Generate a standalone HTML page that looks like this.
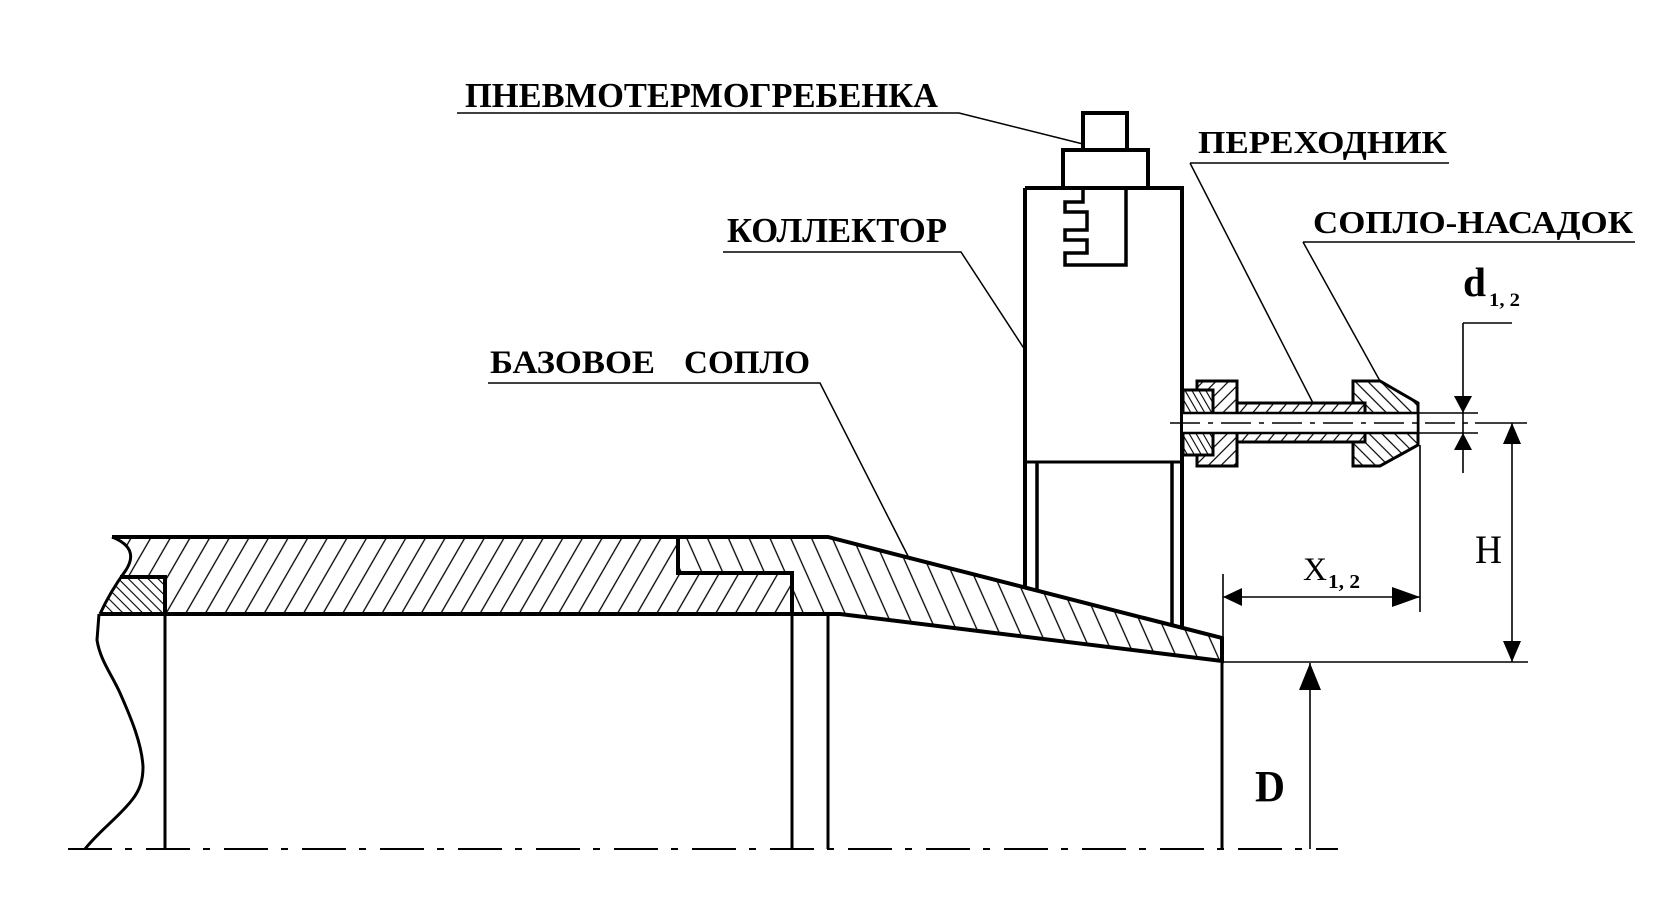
<!DOCTYPE html>
<html>
<head>
<meta charset="utf-8">
<style>
  html, body { margin: 0; padding: 0; background: #fff; }
  body { width: 1668px; height: 897px; overflow: hidden; }
  svg { display: block; }
  text { font-family: "Liberation Serif", "DejaVu Serif", serif; fill: #000; }
</style>
</head>
<body>
<svg width="1668" height="897" viewBox="0 0 1668 897" xmlns="http://www.w3.org/2000/svg">
  <defs>
    <!-- pipe hatch "/" ~60deg -->
    <pattern id="hp" patternUnits="userSpaceOnUse" width="17" height="17" patternTransform="rotate(30)">
      <line x1="8.5" y1="0" x2="8.5" y2="17" stroke="#000" stroke-width="1.3"/>
    </pattern>
    <!-- base nozzle hatch "\" ~66deg -->
    <pattern id="hb" patternUnits="userSpaceOnUse" width="19" height="19" patternTransform="rotate(-24)">
      <line x1="9.5" y1="0" x2="9.5" y2="19" stroke="#000" stroke-width="1.3"/>
    </pattern>
    <!-- small piece "\" 45 -->
    <pattern id="hs" patternUnits="userSpaceOnUse" width="7" height="7" patternTransform="rotate(-45)">
      <line x1="3.5" y1="0" x2="3.5" y2="7" stroke="#000" stroke-width="1.1"/>
    </pattern>
    <!-- nut "/" 45 -->
    <pattern id="hn" patternUnits="userSpaceOnUse" width="9" height="9" patternTransform="rotate(45)">
      <line x1="4.5" y1="0" x2="4.5" y2="9" stroke="#000" stroke-width="1.2"/>
    </pattern>
    <!-- piece A "\" -->
    <pattern id="ha" patternUnits="userSpaceOnUse" width="6" height="6" patternTransform="rotate(-30)">
      <line x1="3" y1="0" x2="3" y2="6" stroke="#000" stroke-width="1.1"/>
    </pattern>
    <!-- tube "/" -->
    <pattern id="htu" patternUnits="userSpaceOnUse" width="10" height="10" patternTransform="rotate(40)">
      <line x1="5" y1="0" x2="5" y2="10" stroke="#000" stroke-width="1.2"/>
    </pattern>
    <!-- tip "\" -->
    <pattern id="hti" patternUnits="userSpaceOnUse" width="9" height="9" patternTransform="rotate(-45)">
      <line x1="4.5" y1="0" x2="4.5" y2="9" stroke="#000" stroke-width="1.2"/>
    </pattern>
  </defs>

  <rect x="0" y="0" width="1668" height="897" fill="#fff"/>

  <!-- ===== Hatched fills of main body ===== -->
  <path d="M112,537 H678 V573 H792 V614 H165 V577 H122 L126,570 Q140,548 112,537 Z" fill="url(#hp)"/>
  <path d="M122,577 H165 V614 H100 Q108,595 122,577 Z" fill="url(#hs)"/>
  <path d="M678,537 H828 L1222,638 V661 L840,614 H792 V573 H678 Z" fill="url(#hb)"/>

  <!-- ===== Main body outlines ===== -->
  <g fill="none" stroke="#000" stroke-linejoin="miter">
    <path d="M112,537 H828 L1222,638 V661 L840,614 H100" stroke-width="4"/>
    <path d="M678,537 V573 H792 V614" stroke-width="4"/>
    <path d="M120,577 H165 V614" stroke-width="4"/>
    <path d="M112,537 Q140,548 126,570 Q110,592 100,614" stroke-width="3"/>
    <path d="M99,614 L97,640 C100,660 112,675 120,693 C132,720 142,745 143,767 C143,780 140,790 132,800 C118,818 100,830 85,849" stroke-width="3"/>
    <!-- verticals to axis -->
    <path d="M165,614 V849" stroke-width="3"/>
    <path d="M792,614 V849" stroke-width="3"/>
    <path d="M828,614 V849" stroke-width="3"/>
    <path d="M1222,661 V849" stroke-width="3"/>
  </g>

  <!-- main axis (dash-dot) -->
  <line x1="68" y1="849" x2="1338" y2="849" stroke="#000" stroke-width="2" stroke-dasharray="44 13 7 14"/>

  <!-- ===== Collector / comb ===== -->
  <g fill="none" stroke="#000" stroke-linejoin="miter">
    <rect x="1083" y="113" width="44" height="37" stroke-width="4" fill="#fff"/>
    <rect x="1063" y="150" width="85" height="38" stroke-width="4" fill="#fff"/>
    <path d="M1025,188 H1182 V627.7" stroke-width="4"/>
    <path d="M1025,188 V587.5" stroke-width="4"/>
    <path d="M1025,462 H1182" stroke-width="3"/>
    <path d="M1037,462 V590.6" stroke-width="3.5"/>
    <path d="M1172,462 V625.2" stroke-width="3.5"/>
    <path d="M1083,188 V202 H1065 V212 H1087 V230 H1065 V240 H1087 V253 H1065 V265 H1126 V188" stroke-width="3.5"/>
  </g>

  <!-- ===== Adapter and nozzle tip ===== -->
  <g stroke="#000" stroke-linejoin="miter">
    <rect x="1197" y="381" width="40" height="85" fill="#fff" stroke="none"/>
    <rect x="1197" y="381" width="40" height="85" fill="url(#hn)" stroke-width="3"/>
    <rect x="1183" y="390" width="30" height="65" fill="#fff" stroke="none"/>
    <rect x="1183" y="390" width="30" height="65" fill="url(#ha)" stroke-width="3"/>
    <polygon points="1353,381 1380,381 1418,403 1418,445 1380,466 1353,466" fill="#fff" stroke="none"/>
    <polygon points="1353,381 1380,381 1418,403 1418,445 1380,466 1353,466" fill="url(#hti)" stroke-width="3"/>
    <rect x="1237" y="403" width="128" height="39" fill="#fff" stroke="none"/>
    <rect x="1237" y="403" width="128" height="39" fill="url(#htu)" stroke-width="3"/>
    <rect x="1183" y="413" width="235" height="20" fill="#fff" stroke="none"/>
    <line x1="1183" y1="413" x2="1418" y2="413" stroke-width="2.5"/>
    <line x1="1183" y1="433" x2="1418" y2="433" stroke-width="2.5"/>
    <line x1="1418" y1="403" x2="1418" y2="445" stroke-width="2.5"/>
  </g>
  <!-- nozzle axis -->
  <line x1="1170" y1="423" x2="1475" y2="423" stroke="#000" stroke-width="1.5" stroke-dasharray="30 8 5 8"/>

  <!-- ===== Dimensions ===== -->
  <g fill="none" stroke="#000" stroke-width="1.6">
    <!-- d -->
    <path d="M1463,323 H1512"/>
    <path d="M1463,323 V473"/>
    <path d="M1418,413 H1478"/>
    <path d="M1418,433 H1478"/>
    <!-- H -->
    <path d="M1475,423 H1527"/>
    <path d="M1512,423 V662"/>
    <!-- X -->
    <path d="M1223,597 H1420"/>
    <path d="M1420,445 V612"/>
    <path d="M1223,574 V638"/>
    <!-- bottom extension -->
    <path d="M1222,662 H1528"/>
    <!-- D -->
    <path d="M1310,663 V849"/>
  </g>
  <g fill="#000" stroke="none">
    <polygon points="1463,413 1454,396 1472,396"/>
    <polygon points="1463,433 1454,450 1472,450"/>
    <polygon points="1512,423 1503,444 1521,444"/>
    <polygon points="1512,662 1503,641 1521,641"/>
    <polygon points="1223,597 1242,588 1242,606"/>
    <polygon points="1420,597 1392,587 1392,607"/>
    <polygon points="1310,663 1299,690 1321,690"/>
  </g>

  <!-- ===== Leaders ===== -->
  <g fill="none" stroke="#000" stroke-width="1.5">
    <path d="M457,113 H959 L1083,144"/>
    <path d="M723,252 H961 L1025,350"/>
    <path d="M488,383 H820 L910,560"/>
    <path d="M1190,163 H1449"/>
    <path d="M1190,163 L1313,403"/>
    <path d="M1303,242 H1635"/>
    <path d="M1303,242 L1380,381"/>
  </g>

  <!-- ===== Labels ===== -->
  <g font-weight="bold">
    <text x="465" y="107" font-size="35" textLength="473" lengthAdjust="spacingAndGlyphs">ПНЕВМОТЕРМОГРЕБЕНКА</text>
    <text x="727" y="242" font-size="35" textLength="220" lengthAdjust="spacingAndGlyphs">КОЛЛЕКТОР</text>
    <text x="490" y="373" font-size="33" textLength="165" lengthAdjust="spacingAndGlyphs">БАЗОВОЕ</text>
    <text x="684" y="373" font-size="33" textLength="126" lengthAdjust="spacingAndGlyphs">СОПЛО</text>
    <text x="1198" y="153" font-size="32" textLength="249" lengthAdjust="spacingAndGlyphs">ПЕРЕХОДНИК</text>
    <text x="1313" y="233" font-size="32" textLength="320" lengthAdjust="spacingAndGlyphs">СОПЛО-НАСАДОК</text>
    <text x="1463" y="296" font-size="41" textLength="23" lengthAdjust="spacingAndGlyphs">d</text>
    <text x="1489" y="306" font-size="19" textLength="31" lengthAdjust="spacingAndGlyphs">1, 2</text>
    <text x="1328" y="588" font-size="20" textLength="32" lengthAdjust="spacingAndGlyphs">1, 2</text>
    <text x="1255" y="801" font-size="44" textLength="30" lengthAdjust="spacingAndGlyphs">D</text>
  </g>
  <text x="1303" y="580" font-size="33" textLength="24" lengthAdjust="spacingAndGlyphs">X</text>
  <text x="1475" y="563" font-size="40" textLength="27" lengthAdjust="spacingAndGlyphs">H</text>
</svg>
</body>
</html>
